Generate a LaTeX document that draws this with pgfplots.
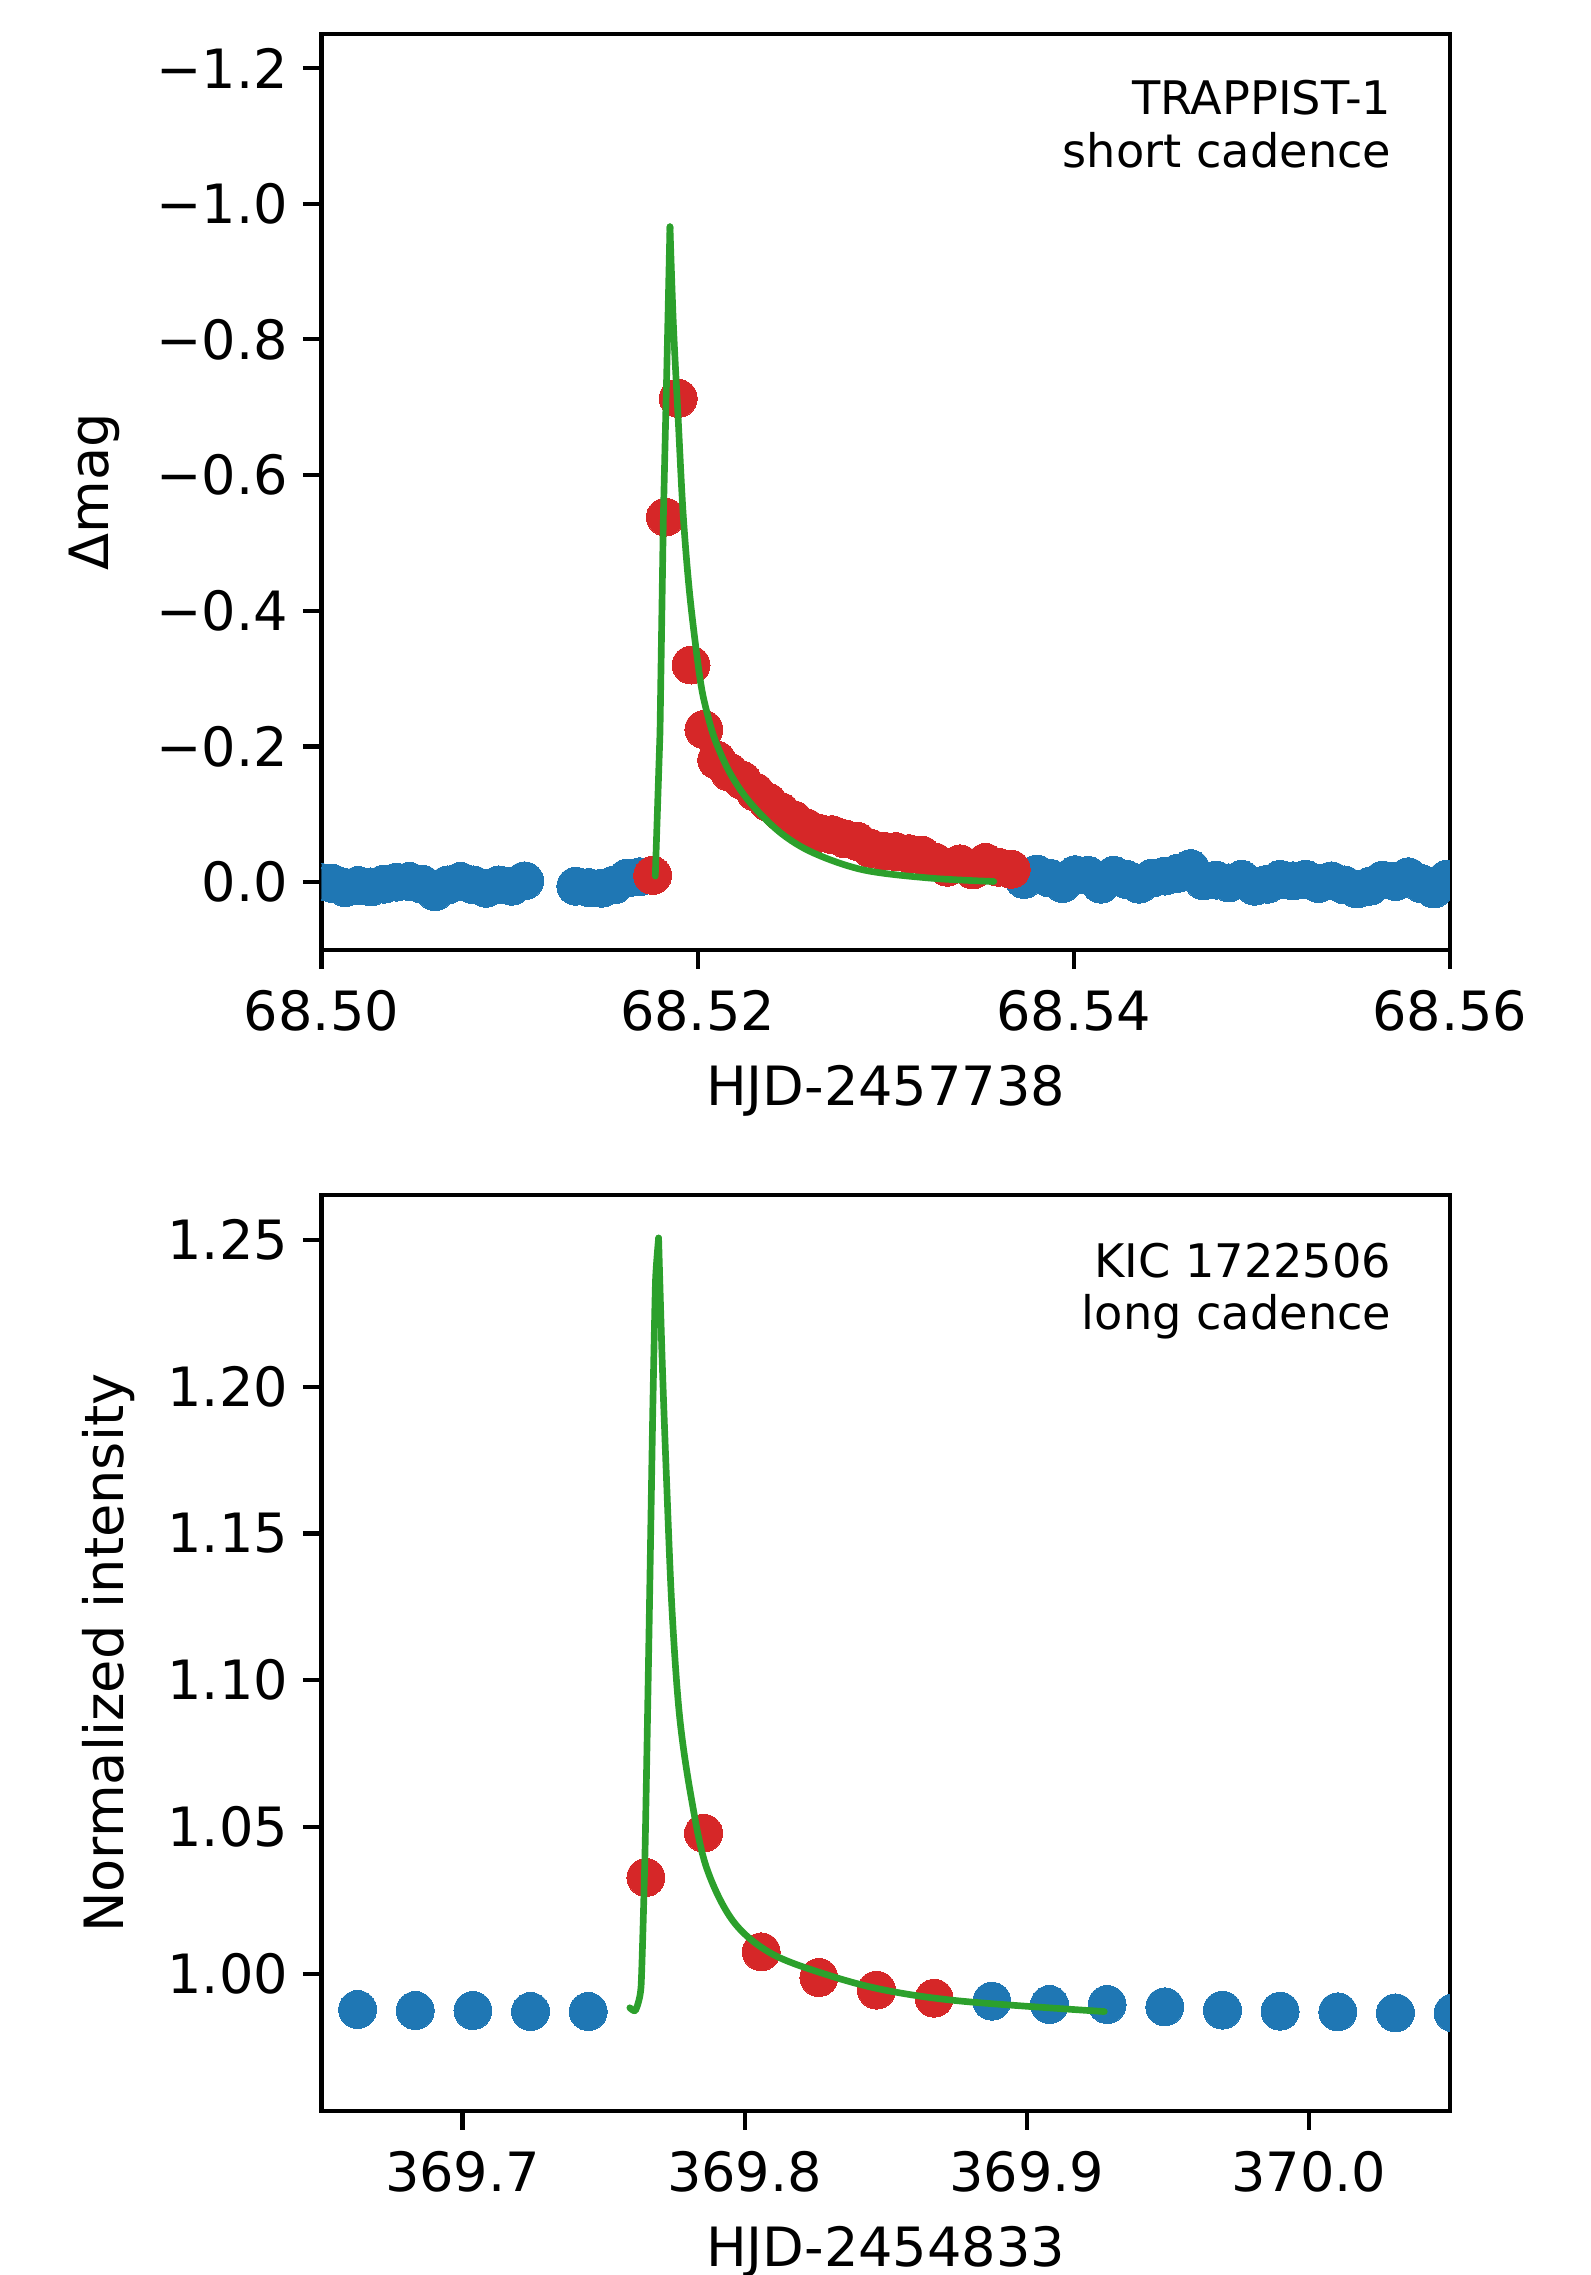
\documentclass[border=0pt]{standalone}
\usepackage{fontspec}
\setmainfont{DejaVu Sans}
\usepackage{pgfplots}
\pgfplotsset{compat=1.18}
\definecolor{tabblue}{HTML}{1F77B4}
\definecolor{tabred}{HTML}{D62728}
\definecolor{tabgreen}{HTML}{2CA02C}
\pgfplotsset{
  lc/.style={
    scale only axis, width=270.8pt,
    axis line style={line width=1pt},
    tick align=outside, major tick length=4.5pt,
    tick style={line width=1pt, black},
    xtick pos=bottom, ytick pos=left,
    tick label style={font=\fontsize{13}{15}\selectfont},
    xticklabel style={yshift=-1.6pt},
    label style={font=\fontsize{13}{15}\selectfont},
    clip marker paths=true,
  },
  pts/.style={only marks, color=#1, mark=*, mark size=4.55pt, mark options={draw=#1, fill=#1, line width=0pt}},
  fit/.style={no marks, tabgreen, line width=1.6pt, line join=round, line cap=round},
}
\begin{document}
\begin{tikzpicture}
% top panel: TRAPPIST-1 short cadence
\begin{axis}[lc, at={(77.16pt,-228pt)}, anchor=south west, height=219.84pt,
  xmin=68.50, xmax=68.56, ymin=-1.25, ymax=0.1, y dir=reverse,
  xtick={68.50,68.52,68.54,68.56}, xticklabels={68.50,68.52,68.54,68.56},
  ytick={-1.2,-1.0,-0.8,-0.6,-0.4,-0.2,0.0},
  yticklabels={−1.2,−1.0,−0.8,−0.6,−0.4,−0.2,0.0},
  xlabel={HJD-2457738}, ylabel={Δmag},
  xlabel style={at={(axis description cs:0.5,-0.154)}, anchor=center},
  ylabel style={at={(axis description cs:-0.2016,0.5)}, anchor=center}]
\addplot[pts=tabblue] coordinates {
  (68.500585,0.002) (68.501266,0.008) (68.501947,0.005)
  (68.502628,0.007) (68.503309,0.003) (68.503990,0.000) (68.504671,-0.001)
  (68.505352,0.003) (68.506033,0.014) (68.506714,0.004) (68.507395,-0.001)
  (68.508076,0.004) (68.508757,0.009) (68.509438,0.004) (68.510119,0.006)
  (68.510800,-0.002)
  (68.513524,0.006) (68.514205,0.008) (68.514886,0.009) (68.515567,0.004)
  (68.516248,-0.006) (68.516929,-0.008)
  (68.537359,-0.004) (68.538040,-0.012) (68.538721,-0.006) (68.539402,0.002)
  (68.540083,-0.011) (68.540764,-0.010) (68.541445,0.003) (68.542126,-0.010)
  (68.542807,-0.004) (68.543488,0.003) (68.544169,-0.006) (68.544850,-0.009)
  (68.545531,-0.013) (68.546212,-0.020) (68.546893,-0.002) (68.547574,-0.003)
  (68.548255,0.001) (68.548936,-0.004) (68.549617,0.006) (68.550298,0.003)
  (68.550979,-0.004) (68.551660,-0.002) (68.552341,-0.004) (68.553022,0.002)
  (68.553703,-0.002) (68.554384,0.004) (68.555065,0.010) (68.555746,0.006)
  (68.556427,-0.003) (68.557108,-0.001) (68.557789,-0.008) (68.558470,0.002)
  (68.559151,0.010) (68.559832,-0.004)};
\addplot[pts=tabred] coordinates {
  (68.517610,-0.010) (68.518291,-0.538) (68.518972,-0.713) (68.519653,-0.320)
  (68.520334,-0.225) (68.521015,-0.180) (68.521696,-0.162) (68.522377,-0.150)
  (68.523058,-0.133) (68.523739,-0.118) (68.524420,-0.104) (68.525101,-0.092)
  (68.525782,-0.080) (68.526463,-0.072) (68.527144,-0.070) (68.527825,-0.064)
  (68.528506,-0.060) (68.529187,-0.050) (68.529868,-0.046) (68.530549,-0.045)
  (68.531230,-0.042) (68.531911,-0.040) (68.532592,-0.030) (68.533273,-0.022)
  (68.533954,-0.027) (68.534635,-0.018) (68.535316,-0.029) (68.535997,-0.022)
  (68.536678,-0.019)};
% model fit: sharp rise, smooth decay
\addplot[fit] coordinates {
  (68.51775,-0.009) (68.51800,-0.220) (68.51818,-0.539) (68.51836,-0.752)
  (68.51853,-0.966)};
\addplot[fit, smooth, tension=0.55] coordinates {
  (68.51853,-0.966) (68.51871,-0.823) (68.51897,-0.681) (68.51924,-0.539)
  (68.51960,-0.419) (68.52013,-0.300) (68.52050,-0.250) (68.52095,-0.208)
  (68.52174,-0.160) (68.52280,-0.117) (68.52440,-0.073) (68.52617,-0.043)
  (68.52883,-0.018) (68.53237,-0.006) (68.53575,-0.001)};
\node[anchor=north east, align=right, inner sep=0pt, font=\fontsize{11.1}{12.7}\selectfont]
  at (axis description cs:0.9488,0.9509) {TRAPPIST-1\\short cadence};
\end{axis}
% edge points of the top panel, half outside the frame
\begin{scope}
\clip (77.16pt,-228pt) rectangle (347.96pt,-8.16pt);
\begin{axis}[scale only axis, hide axis, at={(68.1333pt,-228pt)}, anchor=south west,
  width=288.853pt, height=219.84pt, xmin=68.498, xmax=68.562,
  ymin=-1.25, ymax=0.1, y dir=reverse, clip=false]
\addplot[pts=tabblue] coordinates {(68.499904,0.000) (68.560513,-0.002)};
\end{axis}
\end{scope}
% bottom panel: KIC 1722506 long cadence
\begin{axis}[lc, at={(77.16pt,-506.64pt)}, anchor=south west, height=219.77pt,
  xmin=369.65, xmax=370.05, ymin=0.9532, ymax=1.2652,
  xtick={369.7,369.8,369.9,370.0}, xticklabels={369.7,369.8,369.9,370.0},
  ytick={1.00,1.05,1.10,1.15,1.20,1.25},
  yticklabels={1.00,1.05,1.10,1.15,1.20,1.25},
  xlabel={HJD-2454833}, ylabel={Normalized intensity},
  xlabel style={at={(axis description cs:0.5,-0.154)}, anchor=center},
  ylabel style={at={(axis description cs:-0.1883,0.5)}, anchor=center}]
\addplot[pts=tabblue] coordinates {
  (369.66280,0.98779) (369.68324,0.98745) (369.70368,0.98745) (369.72412,0.98711)
  (369.74456,0.98711)
  (369.88764,0.99063) (369.90808,0.98949) (369.92852,0.98949) (369.94896,0.98870)
  (369.96940,0.98756) (369.98984,0.98722) (370.01028,0.98700) (370.03072,0.98665)};
\addplot[pts=tabred] coordinates {
  (369.76500,1.03277) (369.78544,1.04787) (369.80588,1.00744) (369.82632,0.99869)
  (369.84676,0.99438) (369.86720,0.99165)};
\addplot[fit, smooth, tension=0.3] coordinates {
  (369.7593,0.98838) (369.7613,0.98746) (369.7633,0.99577) (369.7647,1.04194)
  (369.7661,1.11582) (369.7674,1.18969) (369.7684,1.23586) (369.7695,1.25065)};
\addplot[fit, smooth, tension=0.55] coordinates {
  (369.7695,1.25065) (369.7708,1.20816) (369.7722,1.17122) (369.7742,1.12505)
  (369.7769,1.08812) (369.7810,1.06041) (369.7864,1.03639) (369.7959,1.01792)
  (369.8095,1.00685) (369.8298,0.99945) (369.8502,0.99431) (369.8773,0.99060)
  (369.9275,0.98709)};
\node[anchor=north east, align=right, inner sep=0pt, font=\fontsize{11.1}{12.7}\selectfont]
  at (axis description cs:0.9488,0.9491) {KIC 1722506\\long cadence};
\end{axis}
% edge point of the bottom panel
\begin{scope}
\clip (77.16pt,-506.64pt) rectangle (347.96pt,-286.87pt);
\begin{axis}[scale only axis, hide axis, at={(70.39pt,-506.64pt)}, anchor=south west,
  width=284.34pt, height=219.77pt, xmin=369.64, xmax=370.06,
  ymin=0.9532, ymax=1.2652, clip=false]
\addplot[pts=tabblue] coordinates {(370.05116,0.98665)};
\end{axis}
\end{scope}
\pgfresetboundingbox
\path[use as bounding box] (0pt,0pt) rectangle (381.84pt,-546pt);
\end{tikzpicture}
\end{document}
